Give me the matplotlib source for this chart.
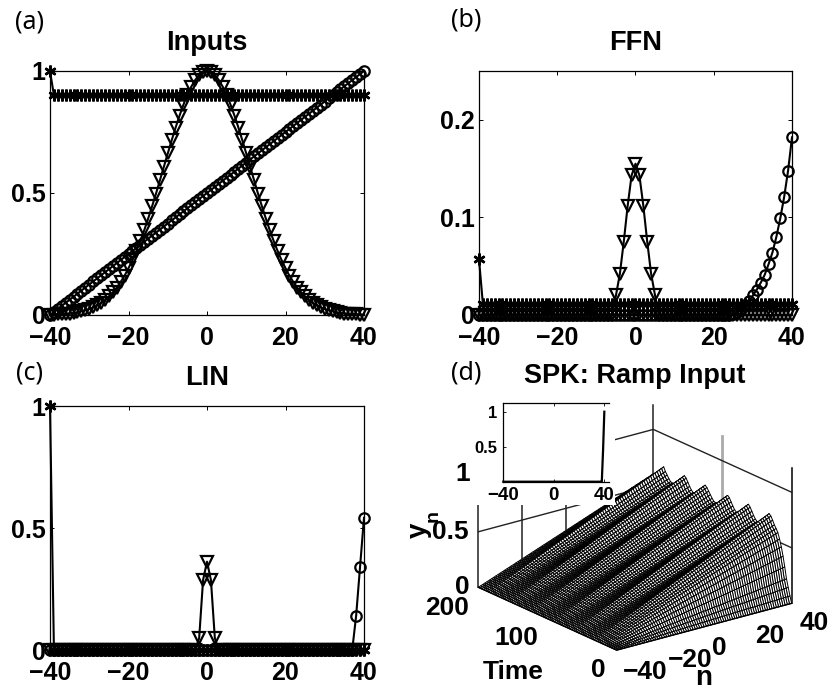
import numpy as np
import matplotlib
matplotlib.use('Agg')
import matplotlib.pyplot as plt
from matplotlib.patches import Rectangle
from mpl_toolkits.mplot3d import proj3d

plt.rcParams['font.family'] = 'Liberation Sans'
plt.rcParams['font.weight'] = 'bold'

W, H = 837, 690

n = list(range(-40, 41))
x_ticks = [-40, -20, 0, 20, 40]

# panel a
gauss_half = [.001, .002, .003, .003, .005, .006, .008, .011, .015, .019, .024, .031, .039, .049,
              .061, .076, .093, .112, .135, .161, .192, .225, .262, .303, .347, .395, .445, .497,
              .552, .607, .662, .716, .768, .817, .862, .902, .936, .963, .984, .996, 1.0]
input_gauss = gauss_half + gauss_half[-2::-1]
input_ramp = [.0000, .0125, .0250, .0375, .0500, .0625, .0750, .0875, .1000, .1125, .1250, .1375,
              .1500, .1625, .1750, .1875, .2000, .2125, .2250, .2375, .2500, .2625, .2750, .2875,
              .3000, .3125, .3250, .3375, .3500, .3625, .3750, .3875, .4000, .4125, .4250, .4375,
              .4500, .4625, .4750, .4875, .5000, .5125, .5250, .5375, .5500, .5625, .5750, .5875,
              .6000, .6125, .6250, .6375, .6500, .6625, .6750, .6875, .7000, .7125, .7250, .7375,
              .7500, .7625, .7750, .7875, .8000, .8125, .8250, .8375, .8500, .8625, .8750, .8875,
              .9000, .9125, .9250, .9375, .9500, .9625, .9750, .9875, 1.0000]
input_star = [1.0] + [0.9] * 80

# panel b
ffn_gauss = [0] * 35 + [.02, .042, .075, .112, .143, .155, .143, .112, .075, .042, .02] + [0] * 35
ffn_ramp = [0] * 65 + [.001, .003, .006, .010, .014, .020, .026, .033, .041, .052, .064, .080,
                       .099, .121, .148, .182]
ffn_star = [.057] + [.011] * 80

# panel c
lin_gauss = [0] * 38 + [.048, .287, .362, .287, .048] + [0] * 38
lin_ramp = [0] * 78 + [.141, .342, .542]
lin_star = [1.0] + [0] * 80

# panel d, height along time at n=40 read every 2.5 time units
spk_time = np.arange(0, 202.5, 2.5)
spk_amp = [0, .06, .13, .20, .30, .39, .467, .53, .58, .61, .635, .67, .70, .715,
           .69, .665, .645, .625, .61, .60, .595, .61, .635, .665, .695, .715,
           .69, .665, .645, .625, .61, .60, .595, .61, .635, .665, .695, .71,
           .69, .665, .645, .625, .61, .60, .595, .60, .62, .645, .67, .695, .71,
           .69, .665, .645, .625, .61, .60, .595, .61, .635, .665, .695, .71,
           .69, .665, .645, .625, .61, .60, .595, .60, .62, .645, .67, .705,
           .68, .66, .64, .625, .61, .60]
inset_y = [0] * 79 + [.45, 1.0]


def axes_px(left, right, top, bottom, **kw):
    return fig.add_axes([left / W, 1 - bottom / H, (right - left) / W, (bottom - top) / H], **kw)


def text_px(x, y, s, **kw):
    kw.setdefault('ha', 'center')
    kw.setdefault('va', 'center')
    kw.setdefault('fontsize', 19)
    return fig.text(x / W, 1 - y / H, s, **kw)


def draw_panel(ax, gauss, ramp, star, title, ylim, yticks, ylabels):
    ax.plot(n, gauss, '-', color='k', lw=1.5, marker='v', ms=9, mfc='none', mew=1.6, clip_on=False)
    ax.plot(n, ramp, '-', color='k', lw=1.5, marker='o', ms=7.5, mfc='none', mew=1.6, clip_on=False)
    ax.plot(n, star, '-', color='k', lw=1.5, marker=(6, 2, 0), ms=8.5, mew=1.8, clip_on=False)
    ax.set_xlim(-40, 40)
    ax.set_ylim(*ylim)
    ax.set_xticks(x_ticks)
    ax.set_yticks(yticks)
    ax.set_yticklabels(ylabels)
    ax.tick_params(direction='in', length=3, width=0.7, top=True, right=True, labelsize=18)
    ax.tick_params(axis='x', pad=8)
    ax.tick_params(axis='y', pad=3)
    for s in ax.spines.values():
        s.set_linewidth(0.9)
    ax.set_title(title, fontsize=19.5, fontweight='bold', pad=15)


fig = plt.figure(figsize=(W / 100, H / 100), dpi=100)

ax_a = axes_px(50, 364, 71, 315)
draw_panel(ax_a, input_gauss, input_ramp, input_star, 'Inputs', (0, 1), [0, .5, 1], ['0', '0.5', '1'])
ax_b = axes_px(479, 792, 71, 315)
draw_panel(ax_b, ffn_gauss, ffn_ramp, ffn_star, 'FFN', (0, .25), [0, .1, .2], ['0', '0.1', '0.2'])
ax_c = axes_px(50, 364, 406, 650)
draw_panel(ax_c, lin_gauss, lin_ramp, lin_star, 'LIN', (0, 1), [0, .5, 1], ['0', '0.5', '1'])

# 3d surface
ax_d = fig.add_axes([0.5, 0.05, 0.45, 0.45], projection='3d', proj_type='ortho')
ax_d.computed_zorder = False
ax_d.set_xlim(-40, 40)
ax_d.set_ylim(0, 200)
ax_d.set_zlim(0, 1.22)
ax_d.set_box_aspect((662, 682, 434))
ax_d.view_init(elev=20.4, azim=-127.5)
ax_d.set_axis_off()

N, T = np.meshgrid(n, spk_time)
Z = np.outer(spk_amp, input_ramp)
ax_d.plot_surface(N, T, Z, rstride=1, cstride=1, color='white', edgecolor='black',
                  linewidth=0.7, shade=False, zorder=2)

wall = '#222222'
for nv in [-40, -20, 0, 20, 40]:
    ax_d.plot([nv, nv], [200, 200], [0, 1.22], color=wall, lw=1.1, zorder=1)
ax_d.plot([40, 40], [100, 100], [0, 1.22], color='#aaaaaa', lw=2, zorder=1)
ax_d.plot([40, 40], [0, 0], [0, 1.22], color='k', lw=1.1, zorder=1)
for zv in [.5, 1]:
    ax_d.plot([-40, 40, 40], [200, 200, 0], [zv, zv, zv], color=wall, lw=1, zorder=1)
ax_d.plot([-40, -40, 40], [200, 0, 0], [0, 0, 0], color='k', lw=1, zorder=3)


# move the 3d box onto its place in the picture
def corner(x, y, z):
    px_, py_, _ = proj3d.proj_transform(x, y, z, ax_d.get_proj())
    return ax_d.transData.transform((px_, py_))


target_l = np.array([420 + 175 / 3, H - (350 + 712 / 3)])
target_r = np.array([420 + 1115 / 3, H - (350 + 760 / 3)])
for _ in range(3):
    fig.canvas.draw()
    a, b = corner(-40, 200, 0), corner(40, 0, 0)
    s = (target_r[0] - target_l[0]) / (b[0] - a[0])
    pos = ax_d.get_position(original=True)
    side = pos.width * W * s
    cx = pos.x0 * W + pos.width * W / 2
    cy = pos.y0 * H + pos.height * H / 2
    mid = (a + b) / 2
    cx_new = cx + ((target_l + target_r) / 2 - mid)[0]
    cy_new = cy + ((target_l + target_r) / 2 - mid)[1]
    ax_d.set_position([(cx_new - side / 2) / W, (cy_new - side / 2) / H, side / W, side / H])

# white box behind the inset
fig.add_artist(Rectangle((477 / W, 1 - 505 / H), (615 - 477) / W, (505 - 400) / H, transform=fig.transFigure,
                         facecolor='white', edgecolor='none', zorder=2))

ax_in = axes_px(503.3, 609, 403.3, 481.7, zorder=3)
ax_in.plot(n, inset_y, color='k', lw=1.6, clip_on=False)
ax_in.set_xlim(-40, 43.7)
ax_in.set_ylim(0, 1.12)
ax_in.set_xticks([-40, 0, 40])
ax_in.set_yticks([.5, 1])
ax_in.set_yticklabels(['0.5', '1'])
ax_in.spines['right'].set_visible(False)
ax_in.tick_params(direction='in', length=2, width=0.6, top=True, pad=4)
ax_in.tick_params(axis='x', labelsize=13.5)
ax_in.tick_params(axis='y', labelsize=12)
for s in ax_in.spines.values():
    s.set_linewidth(0.9)

# panel d labels
zk = dict(zorder=5)
text_px(420 + 645 / 3, 376, 'SPK: Ramp Input', fontsize=19.5, **zk)
text_px(420 + 127 / 3, 350 + 372 / 3, '1', **zk)
text_px(420 + 90 / 3, 350 + 545 / 3, '0.5', **zk)
text_px(420 + 127 / 3, 350 + 712 / 3, '0', **zk)
text_px(420 + 82 / 3, 350 + 773 / 3, '200', **zk)
text_px(420 + 288 / 3, 350 + 865 / 3, '100', **zk)
text_px(420 + 535 / 3, 350 + 960 / 3, '0', **zk)
text_px(420 + 675 / 3, 350 + 965 / 3, '\u221240', **zk)
text_px(420 + 810 / 3, 350 + 930 / 3, '\u221220', **zk)
text_px(420 + 898 / 3, 350 + 893 / 3, '0', **zk)
text_px(420 + 1050 / 3, 350 + 858 / 3, '20', **zk)
text_px(420 + 1182 / 3, 350 + 820 / 3, '40', **zk)
text_px(420 + 280 / 3, 350 + 965 / 3, 'Time', **zk)
text_px(420 + 850 / 3, 350 + 983 / 3, 'n', fontsize=20, **zk)
text_px(419, 530, 'y', rotation=90, fontsize=20, **zk)
text_px(433, 516, 'n', rotation=90, fontsize=14, **zk)

# panel letters
for x, y, s in [(30, 22, '(a)'), (466, 20, '(b)'), (30, 373, '(c)'), (466, 373, '(d)')]:
    text_px(x, y, s, fontsize=18, fontweight='normal', family='Noto Sans', zorder=5)

plt.savefig('out.png', dpi=100)
